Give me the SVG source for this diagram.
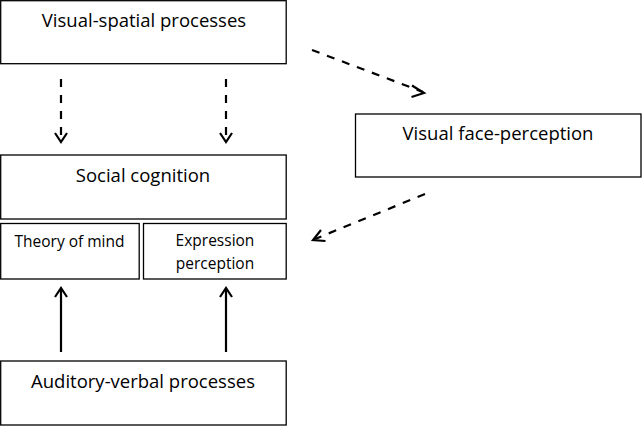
<svg xmlns="http://www.w3.org/2000/svg" width="642" height="426" viewBox="0 0 642 426">
<style>
.box{fill:#fff;stroke:#000;stroke-width:1.3}
.t{font-family:"Open Sans","Liberation Sans",sans-serif;fill:#000;text-anchor:middle}
.big{font-size:18.5px}
.small{font-size:15.5px}
.dash{stroke:#000;stroke-width:2.2;fill:none;stroke-dasharray:8,8}
.solid{stroke:#000;stroke-width:2.2;fill:none}
.head{stroke:#000;stroke-width:2.2;fill:none}
</style>
<rect width="642" height="426" fill="#fff"/>
<g id="visual-spatial"><rect class="box" x="0.7" y="0.7" width="285.5" height="63"/><text class="t big" x="144" y="27">Visual-spatial processes</text></g>
<g id="social-cognition"><rect class="box" x="0.7" y="155" width="285.5" height="64"/><text class="t big" x="143" y="182">Social cognition</text></g>
<g id="theory-of-mind"><rect class="box" x="0.7" y="223.5" width="138.5" height="55.5"/><text class="t small" x="69.5" y="247">Theory of mind</text></g>
<g id="expression-perception"><rect class="box" x="143.5" y="223.5" width="142.7" height="55.5"/><text class="t small" x="215" y="246">Expression</text><text class="t small" x="215" y="269">perception</text></g>
<g id="auditory-verbal"><rect class="box" x="0.7" y="361" width="285.5" height="64"/><text class="t big" x="143" y="388">Auditory-verbal processes</text></g>
<g id="visual-face"><rect class="box" x="355.5" y="114" width="285.5" height="63"/><text class="t big" x="498" y="140">Visual face-perception</text></g>
<g id="connectors">
<path class="dash" d="M61 79 V140"/><path class="head" d="M55 133 L61 142 L67 133"/>
<path class="dash" d="M226 79 V140"/><path class="head" d="M220 133 L226 142 L232 133"/>
<path class="dash" d="M312 50 L423 92"/><path class="head" d="M412 85.5 L424 93 L411.5 97"/>
<path class="dash" d="M425 194 L315 239"/><path class="head" d="M321 230 L313 240 L325.5 241"/>
<path class="solid" d="M61 352 V290"/><path class="head" d="M55 297 L61 288 L67 297"/>
<path class="solid" d="M226 352 V290"/><path class="head" d="M220 297 L226 288 L232 297"/>
</g>
</svg>
